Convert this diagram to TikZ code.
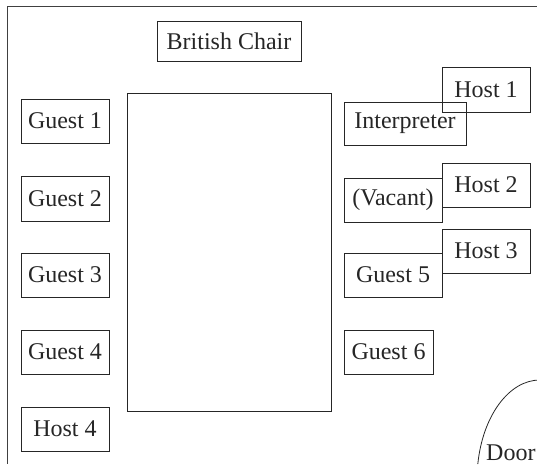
\documentclass[tikz,border=0pt]{standalone}
\usepackage{fontspec}
\setmainfont{Liberation Serif}
\begin{document}
\begin{tikzpicture}[x=1pt,y=-1pt,
  seat/.style={draw=black!85, line width=0.8pt, inner sep=0pt, outer sep=0pt,
    anchor=north west, minimum height=44pt, font=\fontsize{24}{27}\selectfont, text=black!85},
  frameline/.style={draw=black!75, line width=1pt},
  thin/.style={draw=black!85, line width=0.8pt}]
\useasboundingbox (0,0) rectangle (537,464);
% room frame
\coordinate (tl) at (7,6);
\coordinate (tr) at (537,6);
\coordinate (bl) at (7,464);
\draw[frameline] (tr) -- (tl) -- (bl);
% table
\node[seat, minimum width=204pt, minimum height=318pt] (table) at (127,93) {};
% top
\node[seat, minimum width=144pt, minimum height=40pt] (chair) at (157,21) {British Chair};
% left column
\node[seat, minimum width=88pt] (g1) at (21,99) {Guest 1};
\node[seat, minimum width=88pt, minimum height=45pt] (g2) at (21,176) {Guest 2};
\node[seat, minimum width=88pt] (g3) at (21,253) {Guest 3};
\node[seat, minimum width=88pt] (g4) at (21,330) {Guest 4};
\node[seat, minimum width=88pt] (h4) at (21,407) {Host 4};
% right column
\node[seat, minimum width=122pt, minimum height=43pt] (interp) at (344,102) {Interpreter};
\node[seat, minimum width=98pt] (vac) at (344,178) {(Vacant)};
\node[seat, minimum width=98pt] (g5) at (344,253) {Guest 5};
\node[seat, minimum width=89pt] (g6) at (344,330) {Guest 6};
% hosts
\node[seat, minimum width=88pt, minimum height=45pt] (h1) at (442,67) {Host 1};
\node[seat, minimum width=88pt] (h2) at (442,163) {Host 2};
\node[seat, minimum width=88pt] (h3) at (442,229) {Host 3};
% door
\coordinate (doorbot) at (477.8,464);
\draw[thin] (doorbot) arc[start angle=189.2, end angle=270, x radius=63, y radius=100];
\node[anchor=base west, inner sep=0pt, font=\fontsize{24}{27}\selectfont, text=black!85] (door) at (486,460) {Door};
\end{tikzpicture}
\end{document}
